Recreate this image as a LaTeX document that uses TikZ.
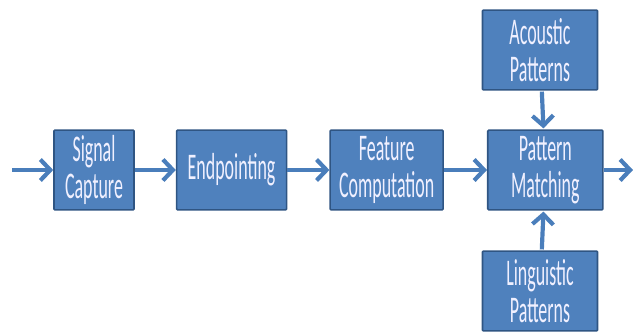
\documentclass[tikz,border=0pt]{standalone}
\usepackage{fontspec}
\setmainfont{Carlito}
\usepackage{tikz}
\usetikzlibrary{arrows.meta}
\usetikzlibrary{positioning}

\definecolor{boxblue}{HTML}{4F81BD}
\definecolor{boxedge}{HTML}{2F5583}
\definecolor{flowblue}{HTML}{4A7EBB}

\begin{document}
\begin{tikzpicture}[x=1bp, y=1bp,
    block/.style={rectangle, draw=boxedge, fill=boxblue, line width=1.6pt, rounded corners=1pt,
        text=white!94!blue, align=center, inner sep=1pt, yscale=2.1, transform shape,
        minimum height=38bp, font=\fontsize{18}{18}\selectfont},
    flow/.style={draw=flowblue, line width=4.2pt, -{Straight Barb[length=10pt, width=21pt]}}]
  \useasboundingbox (0,0) rectangle (633,334);
  \node [block, minimum width=80bp] (sig) at (94,164) {Signal\\Capture};
  \node [block, minimum width=110bp, right=41bp of sig] (endp) {Endpointing};
  \node [block, minimum width=113bp, right=42bp of endp] (feat) {Feature\\Computation};
  \node [block, minimum width=115bp, right=43bp of feat] (patt) {Pattern\\Matching};
  \node [block, minimum width=115bp] (acou) at (540,284) {Acoustic\\Patterns};
  \node [block, minimum width=115bp] (ling) at (540,43) {Linguistic\\Patterns};
  \coordinate (in) at (12,164);
  \coordinate (out) at (633,164);
  % main chain
  \draw [flow] (in) -- (sig);
  \draw [flow] (sig) -- (endp);
  \draw [flow] (endp) -- (feat);
  \draw [flow] (feat) -- (patt);
  \draw [flow] (patt) -- (out);
  % pattern inputs
  \draw [flow] (acou) -- (patt);
  \draw [flow] (ling) -- (patt);
\end{tikzpicture}
\end{document}
